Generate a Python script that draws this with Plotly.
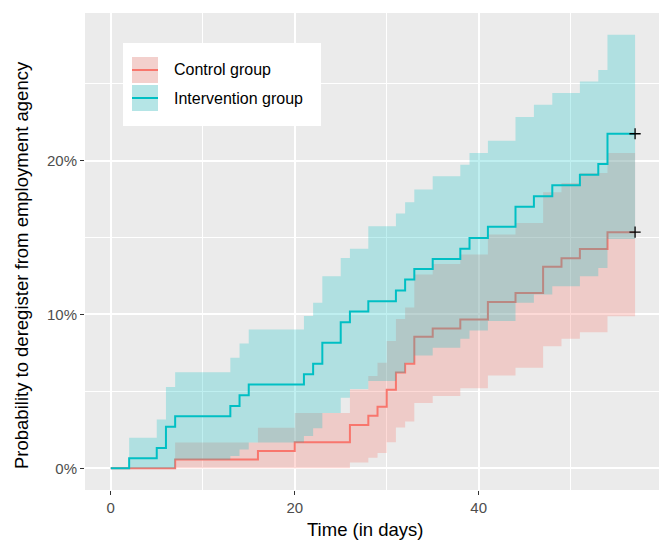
import plotly.graph_objects as go

# ---- data ----
days_interv = [0, 2, 5, 6, 7, 13, 14, 15, 21, 22, 23, 25, 26, 28, 31, 32, 33, 35,
               38, 39, 41, 44, 46, 48, 51, 53, 54, 57]
est_interv = [0, 0.65, 1.32, 2.7, 3.38, 4.05, 4.75, 5.45, 6.12, 6.8, 8.16, 9.5, 10.2,
              10.86, 11.56, 12.27, 12.95, 13.6, 14.27, 14.97, 15.7, 17.0, 17.68, 18.4,
              19.09, 19.79, 21.75, 21.75]
upper_interv = [0, 1.99, 3.18, 5.28, 6.25, 7.19, 8.12, 9.03, 9.9, 10.76, 12.49, 13.68,
                14.27, 15.73, 16.56, 17.3, 18.12, 18.98, 19.74, 20.5, 21.3, 22.84, 23.64,
                24.4, 25.15, 25.9, 28.18, 28.18]
lower_interv = [0, 0, 0, 0, 0.55, 0.8, 1.23, 1.67, 2.1, 2.6, 3.6, 4.59, 5.15, 5.67,
                6.2, 6.86, 7.34, 7.84, 8.42, 8.96, 9.57, 10.76, 11.3, 11.84, 12.49,
                13.03, 14.9, 14.9]

days_ctrl = [0, 7, 16, 20, 26, 28, 29, 30, 31, 32, 33, 35, 38, 41, 44, 47, 49, 51, 54, 57]
est_ctrl = [0, 0.58, 1.13, 1.7, 2.82, 3.42, 4.0, 5.1, 6.23, 6.8, 8.55, 9.09, 9.68,
            10.82, 11.4, 13.1, 13.66, 14.25, 15.35, 15.35]
upper_ctrl = [0, 1.67, 2.64, 3.6, 5.13, 6.0, 6.86, 8.27, 9.7, 10.45, 12.6, 13.29, 13.9,
              15.2, 15.95, 17.94, 18.55, 19.2, 20.5, 20.5]
lower_ctrl = [0, 0, 0, 0, 0.37, 0.69, 1.0, 1.7, 2.65, 3.05, 4.25, 4.7, 5.2, 6.04, 6.54,
              7.94, 8.42, 8.85, 9.89, 9.89]

group_names = ["Control group", "Intervention group"]
x_ticks = [0, 20, 40]
x_ticktext = ["0", "20", "40"]
y_ticks = [0, 10, 20]
y_ticktext = ["0%", "10%", "20%"]

RED = "#F8766D"
TEAL = "#00BFC4"
RED_FILL = "rgba(248,118,109,0.27)"
TEAL_FILL = "rgba(0,191,196,0.25)"

fig = go.Figure()


def add_group(days, est, lo, hi, line_col, fill_col, name):
    fig.add_trace(go.Scatter(x=days, y=lo, mode="lines", line=dict(width=0, shape="hv"),
                             hoverinfo="skip", showlegend=False))
    fig.add_trace(go.Scatter(x=days, y=hi, mode="lines", line=dict(width=0, shape="hv"),
                             fill="tonexty", fillcolor=fill_col, hoverinfo="skip",
                             showlegend=False))
    fig.add_trace(go.Scatter(x=days, y=est, mode="lines", name=name,
                             line=dict(color=line_col, width=2, shape="hv"),
                             showlegend=False))


add_group(days_ctrl, est_ctrl, lower_ctrl, upper_ctrl, RED, RED_FILL, group_names[0])
add_group(days_interv, est_interv, lower_interv, upper_interv, TEAL, TEAL_FILL, group_names[1])

# censor marks at the end of each curve
fig.add_trace(go.Scatter(x=[days_ctrl[-1], days_interv[-1]], y=[est_ctrl[-1], est_interv[-1]],
                         mode="markers", showlegend=False, hoverinfo="skip",
                         marker=dict(symbol="cross-thin", size=8,
                                     line=dict(color="black", width=1.3))))

# ---- manual ggplot-style legend and axis titles (paper coords from pixels) ----
def px_x(p):
    return (p - 85) / 574.0


def px_y(p):
    return (490 - p) / 477.0


shapes = [
    dict(type="rect", xref="paper", yref="paper", x0=px_x(123), x1=px_x(321),
         y0=px_y(126), y1=px_y(43), fillcolor="white", line=dict(width=0), layer="above"),
    dict(type="rect", xref="paper", yref="paper", x0=px_x(132), x1=px_x(158),
         y0=px_y(83), y1=px_y(57), fillcolor="#F2F2F2", line=dict(width=0), layer="above"),
    dict(type="rect", xref="paper", yref="paper", x0=px_x(132), x1=px_x(158),
         y0=px_y(83), y1=px_y(57), fillcolor=RED_FILL, line=dict(width=0), layer="above"),
    dict(type="line", xref="paper", yref="paper", x0=px_x(132), x1=px_x(158),
         y0=px_y(70), y1=px_y(70), line=dict(color=RED, width=2), layer="above"),
    dict(type="rect", xref="paper", yref="paper", x0=px_x(132), x1=px_x(158),
         y0=px_y(111), y1=px_y(85), fillcolor="#F2F2F2", line=dict(width=0), layer="above"),
    dict(type="rect", xref="paper", yref="paper", x0=px_x(132), x1=px_x(158),
         y0=px_y(111), y1=px_y(85), fillcolor=TEAL_FILL, line=dict(width=0), layer="above"),
    dict(type="line", xref="paper", yref="paper", x0=px_x(132), x1=px_x(158),
         y0=px_y(98), y1=px_y(98), line=dict(color=TEAL, width=2), layer="above"),
]
annotations = [
    dict(text=group_names[0], xref="paper", yref="paper", x=px_x(172), y=px_y(70),
         xanchor="left", yanchor="middle", showarrow=False,
         font=dict(size=16, color="black")),
    dict(text=group_names[1], xref="paper", yref="paper", x=px_x(172), y=px_y(98),
         xanchor="left", yanchor="middle", showarrow=False,
         font=dict(size=16, color="black")),
    dict(text="Time (in days)", xref="paper", yref="paper", x=px_x(365), y=px_y(529),
         xanchor="center", yanchor="middle", showarrow=False,
         font=dict(size=18.5, color="black")),
    dict(text="Probability to deregister from employment agency", xref="paper",
         yref="paper", x=px_x(21), y=px_y(265), textangle=-90,
         xanchor="center", yanchor="middle", showarrow=False,
         font=dict(size=18.5, color="black")),
]

fig.update_layout(
    width=659, height=542,
    margin=dict(l=85, r=0, t=13, b=52, autoexpand=False),
    paper_bgcolor="white", plot_bgcolor="#EBEBEB",
    font=dict(family="Liberation Sans, Arial, sans-serif", color="black"),
    shapes=shapes, annotations=annotations,
    showlegend=False,
)
fig.update_xaxes(
    range=[-2.8, 59.6], tickvals=x_ticks, ticktext=x_ticktext, ticks="outside", ticklen=4,
    tickcolor="#333333", tickwidth=1.1, showgrid=True, gridcolor="white", gridwidth=2,
    zeroline=False, showline=False, automargin=False,
    tickfont=dict(size=15, color="#4D4D4D"),
    minor=dict(tick0=0, dtick=10, showgrid=True, gridcolor="white", gridwidth=1),
)
fig.update_yaxes(
    range=[-1.41, 29.6], tickvals=y_ticks, ticktext=y_ticktext, ticks="outside", ticklen=4,
    tickcolor="#333333", tickwidth=1.1, showgrid=True, gridcolor="white", gridwidth=2,
    zeroline=False, showline=False, automargin=False,
    tickfont=dict(size=15, color="#4D4D4D"),
    minor=dict(tick0=0, dtick=5, showgrid=True, gridcolor="white", gridwidth=1),
)

fig.write_html("out.html", config={"displayModeBar": False},
               post_script="document.body.style.margin='0';document.body.style.overflow='hidden';")
